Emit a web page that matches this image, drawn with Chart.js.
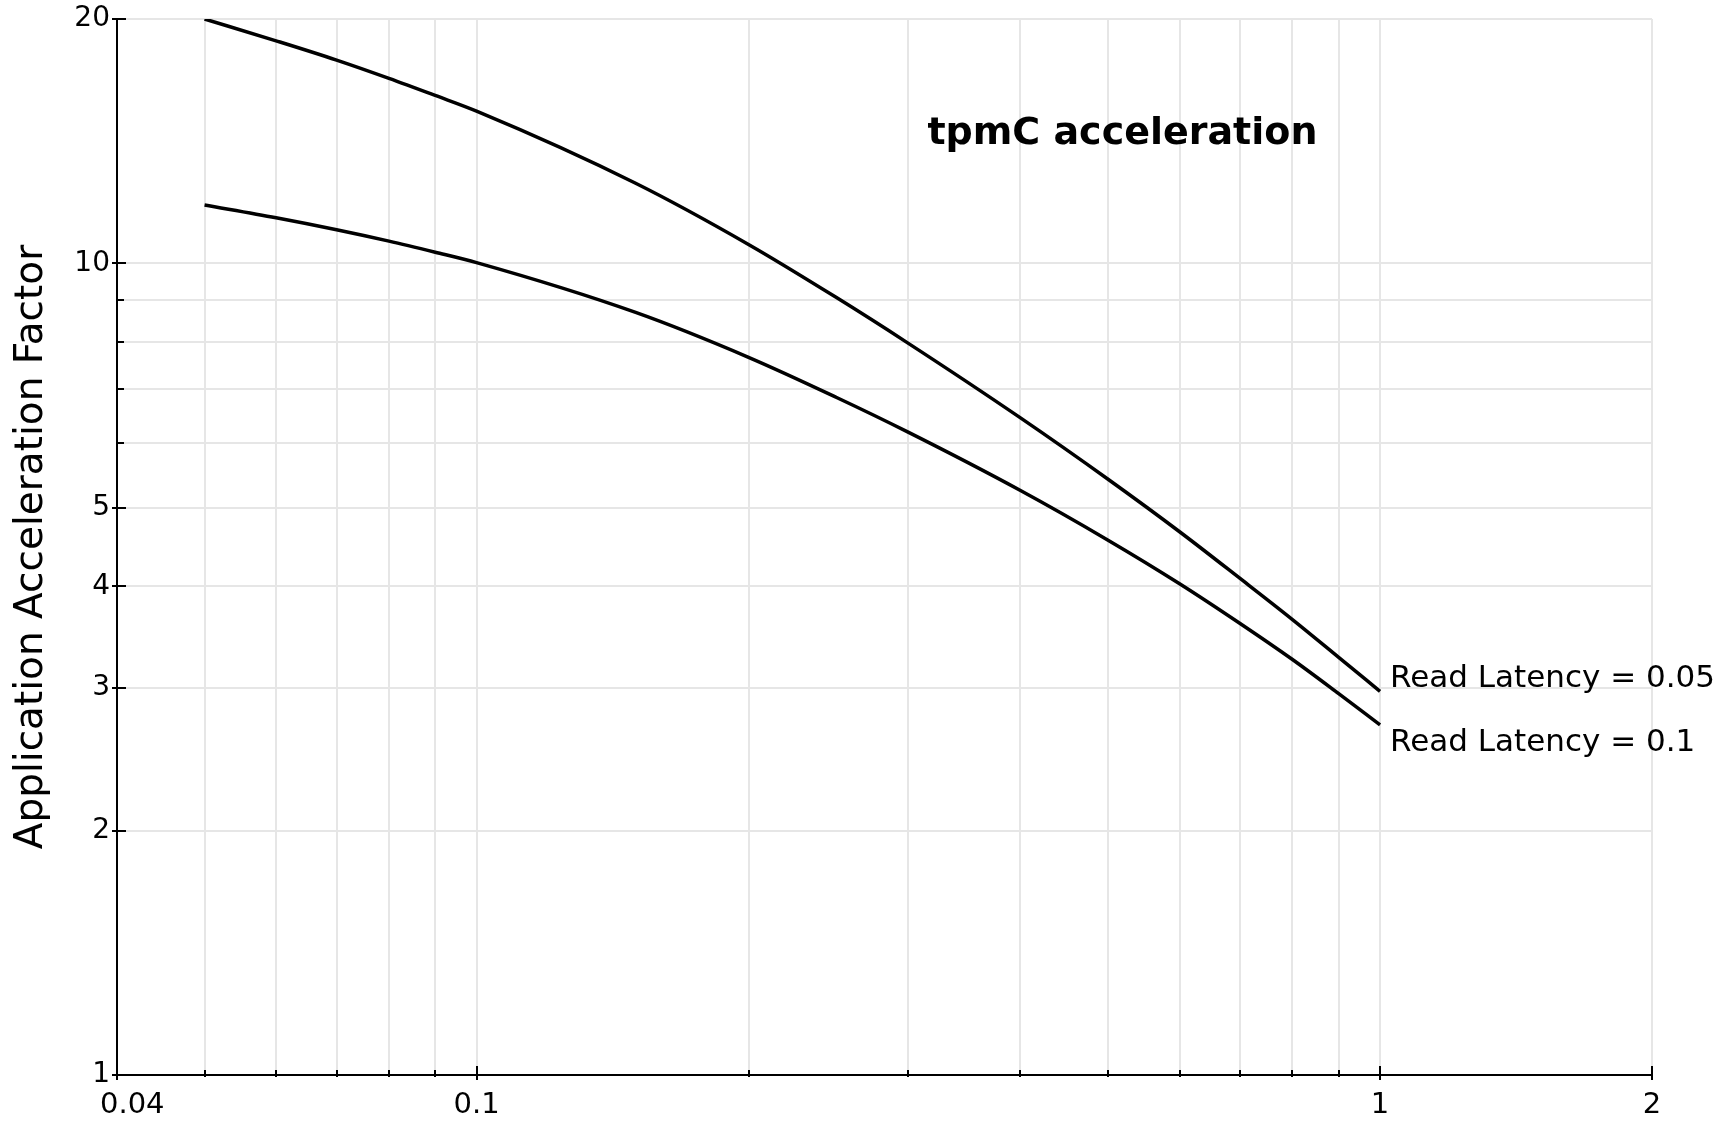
<!DOCTYPE html>
<html>
<head>
<meta charset="utf-8">
<script src="https://cdn.jsdelivr.net/npm/chart.js@4/dist/chart.umd.min.js"></script>
<style>
  html, body { margin: 0; padding: 0; background: #fff; }
  #wrap { width: 1729px; height: 1124px; position: relative; }
</style>
</head>
<body>
<div id="wrap"><canvas id="accelChart"></canvas></div>
<script>
// read latency (x) values where the curves were sampled
const readRatio = [0.05, 0.06, 0.07, 0.08, 0.09, 0.1, 0.15, 0.2, 0.25, 0.3, 0.4, 0.5, 0.6, 0.7, 0.8, 0.9, 1];
const latency005 = [20, 18.8, 17.8, 16.9, 16.1, 15.4, 12.55, 10.55, 9.08, 7.98, 6.45, 5.42, 4.67, 4.09, 3.64, 3.27, 2.97];
const latency01 = [11.8, 11.38, 11.0, 10.65, 10.32, 10.02, 8.7, 7.66, 6.84, 6.2, 5.25, 4.56, 4.03, 3.6, 3.25, 2.95, 2.7];
const seriesNames = ["Read Latency = 0.05", "Read Latency = 0.1"];
const xGridValues = [0.04, 0.05, 0.06, 0.07, 0.08, 0.09, 0.1, 0.2, 0.3, 0.4, 0.5, 0.6, 0.7, 0.8, 0.9, 1, 2];
const yGridValues = [1, 2, 3, 4, 5, 6, 7, 8, 9, 10, 20];
const xTickLabels = [0.04, 0.1, 1, 2];
const yTickLabels = [1, 2, 3, 4, 5, 10, 20];

const FONT = "'DejaVu Sans', Verdana, sans-serif";

function isLabelled(v, list) {
  return list.some(t => Math.abs(t - v) / t < 1e-6);
}

function toPoints(ys) {
  return readRatio.map((x, i) => ({ x: x, y: ys[i] }));
}

// axis tick marks, x labels, curve labels and the in-plot title
const decorations = {
  id: "decorations",
  afterDraw(chart) {
    const ctx = chart.ctx;
    const xs = chart.scales.x, ys = chart.scales.y;
    const area = chart.chartArea;
    ctx.save();
    ctx.strokeStyle = "#000";
    ctx.lineWidth = 2;
    ctx.beginPath();
    xs.ticks.forEach(t => {
      const px = Math.round(xs.getPixelForValue(t.value));
      const major = isLabelled(t.value, xTickLabels);
      ctx.moveTo(px, area.bottom + (major ? 5 : 2));
      ctx.lineTo(px, area.bottom - (major ? 9 : 5));
    });
    ys.ticks.forEach(t => {
      const py = Math.round(ys.getPixelForValue(t.value));
      const major = isLabelled(t.value, yTickLabels);
      ctx.moveTo(area.left - (major ? 5 : 1), py);
      ctx.lineTo(area.left + (major ? 9 : 7), py);
    });
    ctx.stroke();

    ctx.fillStyle = "#000";
    ctx.font = "29px " + FONT;
    ctx.textBaseline = "alphabetic";
    xTickLabels.forEach((v, i) => {
      const px = xs.getPixelForValue(v);
      if (i === 0) {
        ctx.textAlign = "left";
        ctx.fillText(String(v), px - 17, area.bottom + 38);
      } else {
        ctx.textAlign = "center";
        ctx.fillText(String(v), px, area.bottom + 38);
      }
    });

    // labels at the end of each curve
    ctx.font = "31px " + FONT;
    ctx.textAlign = "left";
    chart.data.datasets.forEach((ds, i) => {
      const pts = chart.getDatasetMeta(i).data;
      const last = pts[pts.length - 1];
      const dy = i === 0 ? -4 : 26;
      ctx.fillText(ds.label, last.x + 10, last.y + dy);
    });

    ctx.font = "bold 38px " + FONT;
    ctx.textAlign = "center";
    ctx.fillText("tpmC acceleration", area.left + (area.right - area.left) * 0.655, area.top + (area.bottom - area.top) * 0.118);
    ctx.restore();
  }
};

new Chart(document.getElementById("accelChart"), {
  type: "line",
  data: {
    datasets: [
      { label: seriesNames[0], data: toPoints(latency005) },
      { label: seriesNames[1], data: toPoints(latency01) }
    ]
  },
  options: {
    responsive: true,
    maintainAspectRatio: false,
    animation: false,
    layout: { padding: { top: 19, right: 77, left: 0, bottom: 0 } },
    elements: {
      line: { borderColor: "#000", borderWidth: 3.5, cubicInterpolationMode: "monotone", fill: false },
      point: { radius: 0 }
    },
    plugins: { legend: { display: false }, tooltip: { enabled: false } },
    scales: {
      x: {
        type: "logarithmic",
        min: 0.04,
        max: 2,
        grid: { color: "#e6e6e6", lineWidth: 2, drawTicks: false },
        border: { display: true, color: "#000", width: 2 },
        afterBuildTicks(scale) { scale.ticks = xGridValues.map(v => ({ value: v })); },
        afterFit(scale) { scale.height = 49; scale.paddingLeft = 0; scale.paddingRight = 0; },
        ticks: { display: false, autoSkip: false }
      },
      y: {
        type: "logarithmic",
        min: 1,
        max: 20,
        grid: { color: "#e6e6e6", lineWidth: 2, drawTicks: false },
        border: { display: true, color: "#000", width: 2 },
        afterBuildTicks(scale) { scale.ticks = yGridValues.map(v => ({ value: v })); },
        afterFit(scale) { scale.width = 117; scale.paddingTop = 0; scale.paddingBottom = 0; },
        title: {
          display: true,
          text: "Application Acceleration Factor",
          color: "#000",
          font: { family: FONT, size: 39 },
          padding: { top: 8, bottom: 0 }
        },
        ticks: {
          autoSkip: false,
          padding: 7,
          color: "#000",
          font: { family: FONT, size: 28 },
          callback: v => isLabelled(v, yTickLabels) ? String(v) : ""
        }
      }
    }
  },
  plugins: [decorations]
});
</script>
</body>
</html>
